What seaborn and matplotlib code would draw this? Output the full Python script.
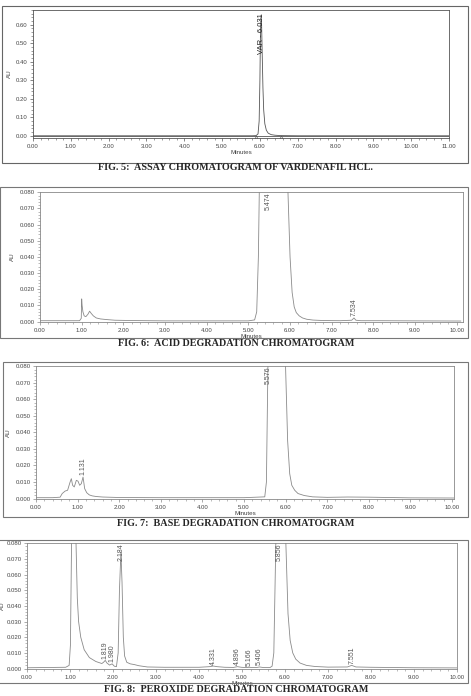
import numpy as np
import seaborn as sns
import matplotlib.pyplot as plt
from matplotlib.patches import Rectangle
from matplotlib.ticker import AutoMinorLocator, FormatStrFormatter

# --- data (time in minutes, absorbance in AU) ---
# Fig. 5: assay
assay_t = [0.00, 2.00, 4.00, 5.80, 5.90, 5.95, 5.98, 6.00, 6.015, 6.031, 6.045, 6.06,
           6.08, 6.10, 6.13, 6.17, 6.22, 6.30, 6.40, 6.55, 7.00, 9.00, 11.00]
assay_au = [0.000, 0.000, 0.000, 0.000, 0.001, 0.010, 0.080, 0.300, 0.560, 0.652, 0.600, 0.450,
            0.260, 0.140, 0.065, 0.030, 0.014, 0.006, 0.003, 0.001, 0.000, 0.000, 0.000]
assay_peaks = [6.031]
assay_labels = ["VAR - 6.031"]
assay_marks = [5.90, 6.55]

# Fig. 6: acid degradation
acid_t = [0.00, 0.50, 0.95, 0.99, 1.00, 1.01, 1.03, 1.06, 1.10, 1.15, 1.19, 1.23, 1.28,
          1.35, 1.45, 1.60, 1.80, 2.20, 3.00, 4.00, 5.00, 5.15, 5.20, 5.24, 5.30, 5.474,
          5.70, 5.90, 5.95, 6.00, 6.05, 6.10, 6.15, 6.22, 6.30, 6.40, 6.55, 6.80, 7.20,
          7.48, 7.534, 7.58, 7.70, 8.20, 9.00, 10.10]
acid_au = [0.0005, 0.0005, 0.0005, 0.0020, 0.0140, 0.0100, 0.0060, 0.0035, 0.0030, 0.0045,
           0.0064, 0.0050, 0.0035, 0.0022, 0.0016, 0.0012, 0.0008, 0.0006, 0.0004, 0.0004,
           0.0004, 0.0010, 0.0060, 0.0400, 0.1500, 0.3000, 0.3200, 0.1500, 0.0800, 0.0400,
           0.0180, 0.0090, 0.0055, 0.0035, 0.0022, 0.0014, 0.0009, 0.0006, 0.0005, 0.0008,
           0.0022, 0.0008, 0.0005, 0.0005, 0.0004, 0.0003]
acid_peaks = [5.474, 7.534]
acid_labels = ["5.474", "7.534"]

# Fig. 7: base degradation
base_t = [0.00, 0.40, 0.58, 0.63, 0.70, 0.76, 0.82, 0.85, 0.88, 0.92, 0.97, 1.01, 1.05,
          1.09, 1.131, 1.17, 1.22, 1.28, 1.35, 1.45, 1.60, 2.00, 3.00, 4.00, 5.00, 5.50,
          5.54, 5.576, 5.62, 5.80, 5.95, 6.00, 6.05, 6.10, 6.15, 6.22, 6.30, 6.45, 6.65,
          7.00, 7.50, 8.00, 8.50, 9.00, 10.05]
base_au = [0.0005, 0.0005, 0.0008, 0.0030, 0.0045, 0.0050, 0.0100, 0.0120, 0.0080, 0.0070,
           0.0110, 0.0105, 0.0080, 0.0090, 0.0130, 0.0060, 0.0035, 0.0022, 0.0016, 0.0012,
           0.0009, 0.0006, 0.0005, 0.0005, 0.0005, 0.0010, 0.0100, 0.0800, 0.2000, 0.3500,
           0.1500, 0.0800, 0.0350, 0.0150, 0.0080, 0.0050, 0.0030, 0.0018, 0.0010, 0.0007,
           0.0009, 0.0008, 0.0006, 0.0004, 0.0003]
base_peaks = [1.131, 5.576]
base_labels = ["1.131", "5.576"]

# Fig. 8: peroxide degradation
perox_t = [0.00, 0.90, 0.98, 1.01, 1.04, 1.08, 1.12, 1.14, 1.17, 1.20, 1.25, 1.33, 1.45,
           1.60, 1.74, 1.78, 1.819, 1.86, 1.92, 1.980, 2.03, 2.08, 2.12, 2.15, 2.184, 2.21,
           2.24, 2.27, 2.32, 2.40, 2.50, 2.60, 2.80, 3.20, 4.00, 4.25, 4.331, 4.42, 4.60,
           4.80, 4.896, 4.98, 5.10, 5.166, 5.25, 5.35, 5.406, 5.48, 5.65, 5.70, 5.74, 5.80,
           5.856, 5.95, 6.02, 6.07, 6.12, 6.18, 6.25, 6.35, 6.50, 6.70, 7.00, 7.45, 7.551,
           7.65, 8.00, 9.00, 10.00]
perox_au = [0.0005, 0.0008, 0.0020, 0.0150, 0.0900, 0.2500, 0.1500, 0.0800, 0.0450, 0.0300,
            0.0200, 0.0120, 0.0070, 0.0045, 0.0032, 0.0040, 0.0052, 0.0035, 0.0022, 0.0030,
            0.0015, 0.0012, 0.0100, 0.0500, 0.0745, 0.0550, 0.0200, 0.0080, 0.0040, 0.0030,
            0.0025, 0.0018, 0.0010, 0.0008, 0.0008, 0.0012, 0.0016, 0.0012, 0.0008, 0.0007,
            0.0012, 0.0008, 0.0006, 0.0008, 0.0006, 0.0007, 0.0010, 0.0007, 0.0006, 0.0015,
            0.0100, 0.1000, 0.3000, 0.2000, 0.0800, 0.0350, 0.0180, 0.0100, 0.0060, 0.0035,
            0.0020, 0.0013, 0.0009, 0.0010, 0.0020, 0.0010, 0.0008, 0.0005, 0.0004]
perox_peaks = [1.819, 1.980, 2.184, 4.331, 4.896, 5.166, 5.406, 5.856, 7.551]
perox_labels = ["1.819", "1.980", "2.184", "4.331", "4.896", "5.166", "5.406", "5.856", "7.551"]

captions = ["FIG. 5:  ASSAY CHROMATOGRAM OF VARDENAFIL HCL.",
            "FIG. 6:  ACID DEGRADATION CHROMATOGRAM",
            "FIG. 7:  BASE DEGRADATION CHROMATOGRAM",
            "FIG. 8:  PEROXIDE DEGRADATION CHROMATOGRAM"]

# --- figure ---
sns.set_style("ticks")
plt.rcParams['font.family'] = ['Liberation Sans', 'DejaVu Sans']
W, H = 471, 696
fig = plt.figure(figsize=(W / 100, H / 100), dpi=100)


def px_axes(left, top, right, bottom):
    return fig.add_axes([left / W, 1 - bottom / H, (right - left) / W, (bottom - top) / H])


def frame(left, top, right, bottom, color='#777777'):
    fig.patches.append(Rectangle((left / W, 1 - bottom / H), (right - left) / W,
                                 (bottom - top) / H, transform=fig.transFigure,
                                 fill=False, edgecolor=color, linewidth=0.8))


def style_axes(ax, xlim, ylim, yfmt, ystep, spine_col):
    ax.set_xlim(*xlim)
    ax.set_ylim(*ylim)
    ax.set_xticks(np.arange(0, xlim[1] + 0.01, 1.0))
    ax.set_yticks(np.arange(0, ylim[1] + ystep * 0.01, ystep))
    ax.xaxis.set_major_formatter(FormatStrFormatter('%.2f'))
    ax.yaxis.set_major_formatter(FormatStrFormatter(yfmt))
    ax.xaxis.set_minor_locator(AutoMinorLocator(5))
    ax.yaxis.set_minor_locator(AutoMinorLocator(5))
    ax.tick_params(which='major', labelsize=4.3, length=2.5, width=0.5, pad=1.5,
                   colors=spine_col, labelcolor='#444444')
    ax.tick_params(which='minor', length=1.3, width=0.4, colors=spine_col)
    for s in ax.spines.values():
        s.set_color(spine_col)
        s.set_linewidth(0.6)
        s.set_visible(True)
    ax.set_xlabel("Minutes", fontsize=4.5, labelpad=1, color='#444444')
    ax.set_ylabel("AU", fontsize=4.5, labelpad=3, color='#444444')


def peak_labels(ax, t, au, peaks, labels, ytop, color, size):
    for rt, lab in zip(peaks, labels):
        apex = np.interp(rt, t, au)
        if apex > 0.8 * ytop:
            ax.text(rt, ytop * 0.995, lab, rotation=90, ha='center', va='top',
                    fontsize=size, color=color)
        else:
            ax.text(rt, apex + ytop * 0.012, lab, rotation=90, ha='center', va='bottom',
                    fontsize=size, color=color)


# Fig. 5
frame(2, 6, 468, 163, '#666666')
ax1 = px_axes(33, 10, 449, 138)
ax1.axhline(0, color='#555555', linewidth=0.6)
sns.lineplot(x=assay_t, y=assay_au, ax=ax1, color='#555555', linewidth=0.6,
             estimator=None, sort=False)
ax1.plot(assay_marks, [-0.006] * len(assay_marks), linestyle='none', marker='^',
         markersize=2.2, markerfacecolor='none', markeredgecolor='#555555', markeredgewidth=0.4)
style_axes(ax1, (0, 11), (-0.012, 0.68), '%.2f', 0.10, '#555555')
peak_labels(ax1, assay_t, assay_au, assay_peaks, assay_labels, 0.668, '#222222', 5.5)

# Fig. 6
frame(0, 187, 468, 338)
ax2 = px_axes(40, 192, 463, 322)
sns.lineplot(x=acid_t, y=acid_au, ax=ax2, color='#8a8a8a', linewidth=0.6,
             estimator=None, sort=False)
style_axes(ax2, (0, 10.15), (-0.0003, 0.0802), '%.3f', 0.010, '#888888')
peak_labels(ax2, acid_t, acid_au, acid_peaks, acid_labels, 0.0802, '#555555', 5)

# Fig. 7
frame(3, 362, 468, 517)
ax3 = px_axes(36, 366, 454, 499)
sns.lineplot(x=base_t, y=base_au, ax=ax3, color='#8a8a8a', linewidth=0.6,
             estimator=None, sort=False)
style_axes(ax3, (0, 10.05), (-0.0003, 0.0802), '%.3f', 0.010, '#888888')
peak_labels(ax3, base_t, base_au, base_peaks, base_labels, 0.0802, '#555555', 5)

# Fig. 8
frame(-2, 540, 468, 683)
ax4 = px_axes(27, 543, 457, 669)
sns.lineplot(x=perox_t, y=perox_au, ax=ax4, color='#8a8a8a', linewidth=0.6,
             estimator=None, sort=False)
style_axes(ax4, (0, 10.0), (-0.0003, 0.0802), '%.3f', 0.010, '#888888')
ax4.yaxis.set_label_coords(-0.052, 0.5)
peak_labels(ax4, perox_t, perox_au, perox_peaks, perox_labels, 0.0802, '#555555', 5)

for cap, ypix in zip(captions, [168, 343, 523, 690]):
    fig.text(236 / W, 1 - ypix / H, cap, ha='center', va='center', fontsize=7.3,
             fontweight='bold', family=['Liberation Serif', 'DejaVu Serif'])

fig.savefig('out.png', dpi=100)
